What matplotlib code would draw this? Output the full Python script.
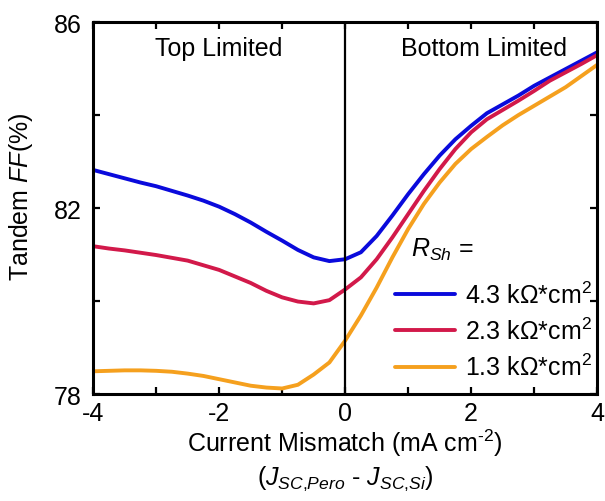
import numpy as np
import matplotlib
matplotlib.use("Agg")
import matplotlib.pyplot as plt
from matplotlib.ticker import FixedLocator

plt.rcParams['font.family'] = ['Liberation Sans', 'DejaVu Sans']
plt.rcParams['mathtext.fontset'] = 'custom'
plt.rcParams['mathtext.rm'] = 'Liberation Sans'
plt.rcParams['mathtext.it'] = 'Liberation Sans:italic'
plt.rcParams['axes.unicode_minus'] = False

# current mismatch J_SC,Pero - J_SC,Si (mA cm^-2)
mismatch = [-4, -3.75, -3.5, -3.25, -3, -2.75, -2.5, -2.25, -2, -1.75, -1.5, -1.25,
            -1, -0.75, -0.5, -0.25, 0, 0.25, 0.5, 0.75, 1, 1.25, 1.5, 1.75,
            2, 2.25, 2.5, 2.75, 3, 3.25, 3.5, 3.75, 4]

# tandem fill factor (%) for each shunt resistance
ff_43 = [82.82, 82.73, 82.64, 82.55, 82.47, 82.37, 82.27, 82.16, 82.03, 81.87, 81.69, 81.49,
         81.30, 81.10, 80.94, 80.86, 80.90, 81.05, 81.40, 81.84, 82.30, 82.73, 83.13, 83.48,
         83.77, 84.04, 84.23, 84.42, 84.63, 84.81, 84.99, 85.17, 85.35]
ff_23 = [81.18, 81.13, 81.09, 81.04, 80.99, 80.93, 80.87, 80.77, 80.67, 80.53, 80.39, 80.22,
         80.08, 79.99, 79.95, 80.02, 80.25, 80.51, 80.90, 81.37, 81.87, 82.37, 82.84, 83.27,
         83.63, 83.91, 84.11, 84.31, 84.52, 84.74, 84.92, 85.10, 85.29]
ff_13 = [78.49, 78.50, 78.51, 78.51, 78.50, 78.48, 78.44, 78.39, 78.32, 78.25, 78.18, 78.14,
         78.12, 78.20, 78.42, 78.68, 79.15, 79.69, 80.29, 80.94, 81.55, 82.09, 82.55, 82.95,
         83.27, 83.53, 83.78, 84.00, 84.20, 84.40, 84.60, 84.84, 85.08]

labels = [r'4.3 k$\Omega$*cm$^2$', r'2.3 k$\Omega$*cm$^2$', r'1.3 k$\Omega$*cm$^2$']
colors = ['#0a0adc', '#d2194a', '#f5a01e']

fig = plt.figure(figsize=(6.05, 5.02), dpi=100)
ax = fig.add_axes([0.154, 0.213, 0.833, 0.741])

for ff, lab, c in zip([ff_43, ff_23, ff_13], labels, colors):
    ax.plot(mismatch, ff, color=c, lw=2.8, label=lab,
            solid_capstyle='round', solid_joinstyle='round')

ax.axvline(0, color='black', lw=1.6)

ax.set_xlim(-4, 4)
ax.set_ylim(78, 86)
ax.xaxis.set_major_locator(FixedLocator([-4, -2, 0, 2, 4]))
ax.xaxis.set_minor_locator(FixedLocator([-3, -1, 1, 3]))
ax.yaxis.set_major_locator(FixedLocator([78, 82, 86]))
ax.yaxis.set_minor_locator(FixedLocator([80, 84]))
ax.tick_params(which='both', direction='in', top=True, right=True,
               length=5, width=1.6, labelsize=18)
ax.tick_params(axis='y', pad=8)
ax.tick_params(axis='x', pad=5)
for s in ax.spines.values():
    s.set_linewidth(2.2)

ax.set_xlabel(r'Current Mismatch (mA cm$^{\text{-}2}$)', fontsize=18, labelpad=1)
fig.text(0.571, 0.046, r'($J_{SC{,}Pero}$ - $J_{SC{,}Si}$)', fontsize=18,
         ha='center', va='center')
ax.set_ylabel('Tandem $FF$(%)', fontsize=18)
ax.yaxis.set_label_coords(-0.115, 0.532)

ax.text(-2, 85.45, 'Top Limited', fontsize=18, ha='center', va='center')
ax.text(2.2, 85.45, 'Bottom Limited', fontsize=18, ha='center', va='center')

ax.text(0.63, 0.39, r'$R_{Sh}$ =', fontsize=18, transform=ax.transAxes, va='center')
ax.legend(loc='lower right', frameon=False, fontsize=18, handlelength=2.4,
          handletextpad=0.4, labelspacing=0.4, borderaxespad=0.0,
          bbox_to_anchor=(1.01, 0.01))

fig.savefig('out.png', dpi=100)
